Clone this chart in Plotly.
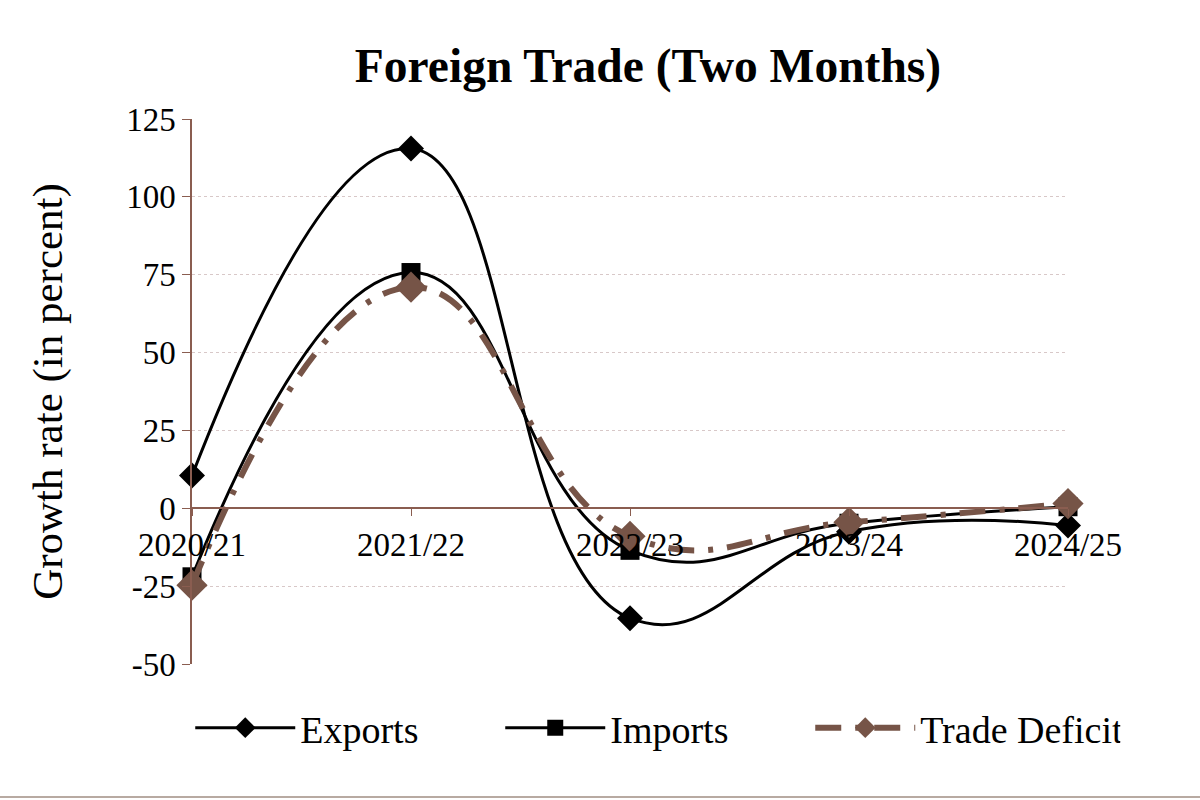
import plotly.graph_objects as go

categories = ["2020/21", "2021/22", "2022/23", "2023/24", "2024/25"]
exports = [10.5, 115.5, -35.3, -7.5, -5.5]
imports = [-22.0, 75.7, -13.5, -4.8, 0.5]
trade_deficit = [-24.7, 71.0, -9.0, -4.5, 1.5]
y_ticks = [-50, -25, 0, 25, 50, 75, 100, 125]
y_tick_labels = [str(v) for v in y_ticks]

BROWN = "#765447"
AXIS = "#8a5d50"
FONT = "Liberation Serif, Times New Roman, serif"

fig = go.Figure()
fig.add_trace(go.Scatter(
    x=categories, y=exports, name="Exports", mode="lines+markers",
    line=dict(color="black", width=3, shape="spline", smoothing=1.3),
    marker=dict(symbol="diamond", size=20, color="black"), cliponaxis=False))
fig.add_trace(go.Scatter(
    x=categories, y=imports, name="Imports", mode="lines+markers",
    line=dict(color="black", width=3, shape="spline", smoothing=1.3),
    marker=dict(symbol="square", size=19, color="black"), cliponaxis=False))
fig.add_trace(go.Scatter(
    x=categories, y=trade_deficit, name="Trade Deficit", mode="lines+markers",
    line=dict(color=BROWN, width=6, shape="spline", smoothing=1.3, dash="26px,14px,5px,14px"),
    marker=dict(symbol="diamond", size=24, color=BROWN), cliponaxis=False))

ymin, ymax = -50, 125
fig.update_layout(
    width=1200, height=800,
    paper_bgcolor="white", plot_bgcolor="white",
    margin=dict(l=192, r=132, t=119, b=136, autoexpand=False),
    font=dict(family=FONT, color="black", size=33),
    title=dict(text="<b>Foreign Trade (Two Months)</b>", x=0.54, xanchor="center",
               y=0.918, yanchor="middle", font=dict(size=47.5, family=FONT)),
    showlegend=True,
    legend=dict(orientation="h", xref="paper", yref="paper",
                x=-0.002, xanchor="left", y=(664 - 728) / 545, yanchor="middle",
                bgcolor="rgba(0,0,0,0)",
                font=dict(size=38, family=FONT), itemwidth=100, tracegroupgap=0,
                entrywidthmode="pixels", entrywidth=195),
    xaxis=dict(type="category", range=[0, 4], showgrid=False, zeroline=False,
               showline=True, linecolor=AXIS, linewidth=1.5,
               ticks="outside", ticklen=7, tickcolor=AXIS,
               anchor="free", position=(0 - ymin) / (ymax - ymin),
               tickfont=dict(size=33, family=FONT)),
    yaxis=dict(range=[ymin, ymax], tickvals=y_ticks, ticktext=y_tick_labels,
               showgrid=True, gridcolor="#d8c8c8", griddash="dot", gridwidth=1,
               zeroline=False, showline=True, linecolor=AXIS, linewidth=1.5,
               ticks="outside", ticklen=8, tickcolor=AXIS,
               tickfont=dict(size=33, family=FONT),
               title=dict(text="Growth rate (in percent)", standoff=50,
                          font=dict(size=43, family=FONT))),
)

fig.add_shape(type="line", xref="paper", yref="paper",
              x0=-192 / 876, x1=(1200 - 192) / 876,
              y0=(664 - 797) / 545, y1=(664 - 797) / 545,
              line=dict(color="#b8aaa2", width=2))

fig.write_html("out.html")
